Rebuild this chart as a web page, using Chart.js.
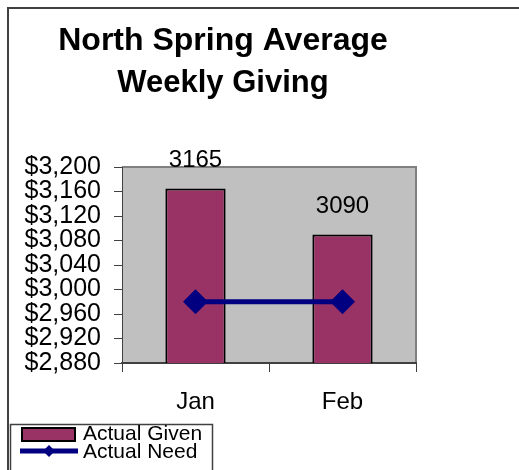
<!DOCTYPE html>
<html>
<head>
<meta charset="utf-8">
<script src="https://cdn.jsdelivr.net/npm/chart.js@4/dist/chart.umd.min.js"></script>
<style>
html,body{margin:0;padding:0;background:#fff;}
canvas{display:block;}
</style>
</head>
<body>
<canvas id="c" width="519" height="470"></canvas>
<script>
const categories = ['Jan', 'Feb'];
const actualGiven = [3165, 3090];
const actualNeed = [2980, 2980];
const titleLines = ['North Spring Average', 'Weekly Giving'];
const yMin = 2880, yMax = 3200, yStep = 40;

const FONT = "'Liberation Sans', Arial, sans-serif";
const BAR_COLOR = '#993366';
const LINE_COLOR = '#000080';

const deco = {
  id: 'deco',
  beforeDraw(chart) {
    const ctx = chart.ctx, a = chart.chartArea;
    ctx.save();
    ctx.fillStyle = '#fff';
    ctx.fillRect(0, 0, chart.width, chart.height);
    // outer frame
    ctx.strokeStyle = '#404040';
    ctx.lineWidth = 2;
    ctx.beginPath();
    ctx.moveTo(8, chart.height);
    ctx.lineTo(8, 8);
    ctx.lineTo(chart.width, 8);
    ctx.stroke();
    // plot background
    ctx.fillStyle = '#c0c0c0';
    ctx.fillRect(a.left, a.top, a.right - a.left, a.bottom - a.top);
    // plot top and right border
    ctx.strokeStyle = '#808080';
    ctx.lineWidth = 2;
    ctx.beginPath();
    ctx.moveTo(a.left, a.top);
    ctx.lineTo(a.right, a.top);
    ctx.lineTo(a.right, a.bottom);
    ctx.stroke();
    // title
    ctx.fillStyle = '#000';
    ctx.font = "bold 32px " + FONT;
    ctx.textAlign = 'center';
    ctx.textBaseline = 'alphabetic';
    ctx.fillText(titleLines[0], 223, 50);
    ctx.font = "bold 31px " + FONT;
    ctx.fillText(titleLines[1], 223, 92);
    ctx.restore();
  },
  afterDatasetsDraw(chart) {
    const ctx = chart.ctx;
    ctx.save();
    // data labels for bars
    const meta = chart.getDatasetMeta(0);
    ctx.fillStyle = '#000';
    ctx.font = "24px " + FONT;
    ctx.textAlign = 'center';
    ctx.textBaseline = 'middle';
    meta.data.forEach((el, i) => {
      ctx.fillText(String(chart.data.datasets[0].data[i]), el.x, el.y - 28);
    });
    // legend
    ctx.strokeStyle = '#404040';
    ctx.lineWidth = 1.5;
    ctx.fillStyle = '#fff';
    ctx.beginPath();
    ctx.rect(10.5, 424.5, 202, 60);
    ctx.fill();
    ctx.stroke();
    const ds = chart.data.datasets;
    // bar swatch
    ctx.fillStyle = ds[0].backgroundColor;
    ctx.fillRect(22, 428, 53, 13);
    ctx.strokeStyle = '#000';
    ctx.lineWidth = 2;
    ctx.strokeRect(22, 428, 53, 13);
    // line swatch
    ctx.strokeStyle = ds[1].borderColor;
    ctx.lineWidth = 5;
    ctx.beginPath();
    ctx.moveTo(20, 451);
    ctx.lineTo(78, 451);
    ctx.stroke();
    ctx.fillStyle = ds[1].borderColor;
    ctx.beginPath();
    ctx.moveTo(49 - 6, 451);
    ctx.lineTo(49, 451 - 6);
    ctx.lineTo(49 + 6, 451);
    ctx.lineTo(49, 451 + 6);
    ctx.closePath();
    ctx.fill();
    ctx.fillStyle = '#000';
    ctx.font = "21px " + FONT;
    ctx.textAlign = 'left';
    ctx.textBaseline = 'middle';
    ctx.fillText(ds[0].label, 83, 434);
    ctx.fillText(ds[1].label, 83, 452);
    ctx.restore();
  }
};

new Chart(document.getElementById('c'), {
  data: {
    labels: categories,
    datasets: [
      {
        type: 'bar',
        label: 'Actual Given',
        data: actualGiven,
        backgroundColor: BAR_COLOR,
        borderColor: '#000',
        borderWidth: 2,
        borderSkipped: false,
        barPercentage: 0.41,
        categoryPercentage: 1,
        order: 2
      },
      {
        type: 'line',
        label: 'Actual Need',
        data: actualNeed,
        borderColor: LINE_COLOR,
        backgroundColor: LINE_COLOR,
        borderWidth: 5,
        pointStyle: 'rectRot',
        pointRadius: 12,
        pointBorderWidth: 1,
        pointBackgroundColor: LINE_COLOR,
        pointBorderColor: LINE_COLOR,
        fill: false,
        order: 1
      }
    ]
  },
  options: {
    responsive: false,
    animation: false,
    devicePixelRatio: 1,
    layout: { padding: { top: 167, right: 103, left: 0, bottom: 0 } },
    plugins: {
      legend: { display: false },
      title: { display: false },
      tooltip: { enabled: false }
    },
    scales: {
      x: {
        offset: true,
        grid: {
          offset: true,
          drawOnChartArea: false,
          drawTicks: true,
          tickLength: 9,
          color: '#404040'
        },
        border: { display: true, color: '#404040', width: 2 },
        ticks: {
          color: '#000',
          font: { family: FONT, size: 24 },
          padding: 16
        },
        afterFit(s) { s.height = 107; }
      },
      y: {
        min: yMin,
        max: yMax,
        grid: {
          drawOnChartArea: false,
          drawTicks: true,
          tickLength: 8,
          color: '#404040'
        },
        border: { display: true, color: '#404040', width: 1 },
        ticks: {
          stepSize: yStep,
          autoSkip: false,
          color: '#000',
          font: { family: FONT, size: 25 },
          padding: 13,
          callback: v => '$' + v.toLocaleString('en-US')
        },
        afterFit(s) { s.width = 122; }
      }
    }
  },
  plugins: [deco]
});
</script>
</body>
</html>
